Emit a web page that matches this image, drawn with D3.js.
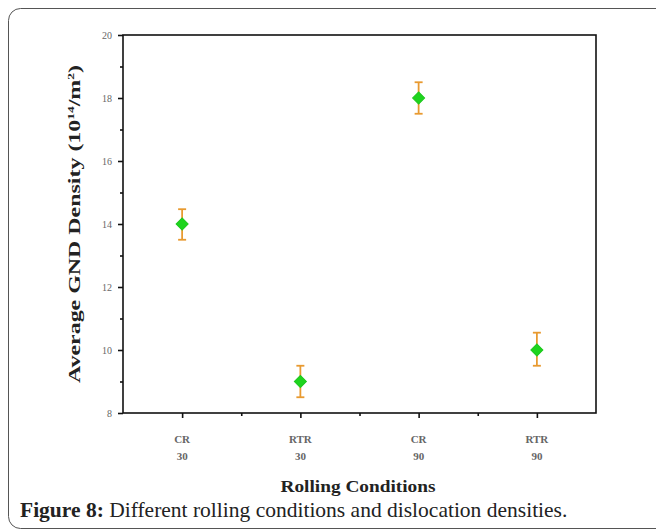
<!DOCTYPE html>
<html><head><meta charset="utf-8">
<script src="https://cdn.jsdelivr.net/npm/d3@7"></script>
<style>body{margin:0;background:#fff}svg{display:block}text{font-family:"Liberation Serif","DejaVu Serif",serif}</style>
</head><body>
<script>
const categories = [["CR","30"],["RTR","30"],["CR","90"],["RTR","90"]];
const values = [14, 9, 18, 10];
const errUp = [0.47, 0.5, 0.5, 0.55];
const errDown = [0.5, 0.5, 0.5, 0.5];
const yTicks = [8,10,12,14,16,18,20];
const yMinor = [9,11,13,15,17,19];

const W=656,H=531;
const svg=d3.select("body").append("svg").attr("width",W).attr("height",H);
svg.append("rect").attr("x",8.5).attr("y",8.5).attr("width",680).attr("height",520).attr("rx",12)
  .attr("fill","none").attr("stroke","#555").attr("stroke-width",1);

const L=123,R=596,T=35,B=413;
const x=d3.scaleLinear().domain([0.5,4.5]).range([L,R]);
const y=d3.scaleLinear().domain([8,20]).range([B,T]);
const g=svg.append("g");
const axc="#111";
g.append("rect").attr("x",L).attr("y",T).attr("width",R-L).attr("height",B-T)
 .attr("fill","none").attr("stroke",axc).attr("stroke-width",1.6);

const ya=g.append("g").attr("transform",`translate(${L},0)`)
 .call(d3.axisLeft(y).tickValues(yTicks).tickSize(5).tickPadding(6).tickFormat(d3.format("d")));
ya.select(".domain").remove();
ya.selectAll("line").attr("stroke",axc).attr("stroke-width",1.6);
ya.selectAll("text").style("font-family","'Liberation Serif',serif").attr("font-size",10).attr("fill","#666");
const ym=g.append("g").attr("transform",`translate(${L},0)`)
 .call(d3.axisLeft(y).tickValues(yMinor).tickSize(3).tickFormat(""));
ym.select(".domain").remove();
ym.selectAll("line").attr("stroke",axc).attr("stroke-width",1.6);

const xa=g.append("g").attr("transform",`translate(0,${B})`)
 .call(d3.axisBottom(x).tickValues([1,2,3,4]).tickSize(5).tickFormat(""));
xa.select(".domain").remove();
xa.selectAll("line").attr("stroke",axc).attr("stroke-width",1.6);
const xm=g.append("g").attr("transform",`translate(0,${B})`)
 .call(d3.axisBottom(x).tickValues([1.5,2.5,3.5]).tickSize(3).tickFormat(""));
xm.select(".domain").remove();
xm.selectAll("line").attr("stroke",axc).attr("stroke-width",1.6);

categories.forEach((c,i)=>{
  const t=g.append("text").attr("x",x(i+1)).attr("y",B+30).attr("text-anchor","middle")
   .attr("font-size",11).attr("font-weight","bold").attr("fill","#666");
  t.append("tspan").attr("x",x(i+1)).attr("dy",0).text(c[0]);
  t.append("tspan").attr("x",x(i+1)).attr("dy",17).text(c[1]);
});

const oc="#e89a30";
values.forEach((v,i)=>{
  const cx=x(i+1);
  g.append("line").attr("x1",cx).attr("x2",cx).attr("y1",y(v+errUp[i])).attr("y2",y(v-errDown[i]))
   .attr("stroke",oc).attr("stroke-width",1.8);
  [v+errUp[i],v-errDown[i]].forEach(e=>{
    g.append("line").attr("x1",cx-4).attr("x2",cx+4).attr("y1",y(e)).attr("y2",y(e))
     .attr("stroke",oc).attr("stroke-width",1.8);
  });
});
g.selectAll(".pt").data(values).enter().append("path")
 .attr("transform",(d,i)=>`translate(${x(i+1)},${y(d)}) rotate(45)`)
 .attr("d",d3.symbol().type(d3.symbolSquare).size(72))
 .attr("fill","#1ed41e").attr("stroke","#1ec81e").attr("stroke-width",1);

svg.append("text").attr("x",358).attr("y",492).attr("text-anchor","middle")
 .attr("font-weight","bold").attr("font-size",16).attr("fill","#222")
 .attr("textLength",155).attr("lengthAdjust","spacingAndGlyphs")
 .text("Rolling Conditions");
const yt=svg.append("text").attr("transform","translate(80,224) rotate(-90)").attr("text-anchor","middle")
 .attr("font-weight","bold").attr("font-size",16).attr("fill","#222")
 .attr("textLength",318).attr("lengthAdjust","spacingAndGlyphs");
yt.append("tspan").text("Average GND Density (10");
yt.append("tspan").attr("font-size",9).attr("dy",-6).text("14");
yt.append("tspan").attr("dy",6).text("/m");
yt.append("tspan").attr("font-size",9).attr("dy",-6).text("2");
yt.append("tspan").attr("dy",6).text(")");

const cap=svg.append("text").attr("x",20).attr("y",517)
 .attr("font-size",21.5).attr("fill","#222");
cap.append("tspan").attr("font-weight","bold").text("Figure 8:");
cap.append("tspan").text(" Different rolling conditions and dislocation densities.");
</script>
</body></html>
